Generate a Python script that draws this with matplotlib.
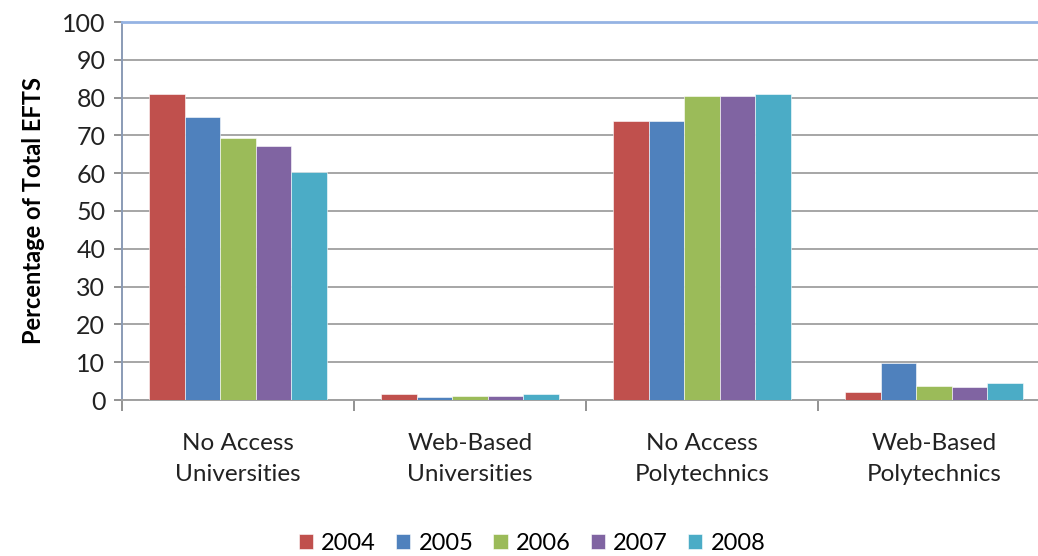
import numpy as np
import matplotlib.pyplot as plt

# share of total EFTS by access type, 2004-2008
categories = ['No Access\nUniversities', 'Web-Based\nUniversities',
              'No Access\nPolytechnics', 'Web-Based\nPolytechnics']
years = ['2004', '2005', '2006', '2007', '2008']
y2004 = [80.9, 1.5, 73.7, 2.1]
y2005 = [74.8, 0.8, 73.7, 9.9]
y2006 = [69.4, 1.1, 80.3, 3.8]
y2007 = [67.3, 1.1, 80.3, 3.4]
y2008 = [60.4, 1.5, 80.9, 4.5]
series = [y2004, y2005, y2006, y2007, y2008]
colors = ['#C0504D', '#4F81BD', '#9BBB59', '#8064A2', '#4BACC6']

plt.rcParams['font.family'] = ['Lato', 'DejaVu Sans']

fig = plt.figure(figsize=(10.38, 5.56), dpi=100)
ax = fig.add_axes([122/1038, 1-400/556, 928/1038, 378/556])

x = np.arange(len(categories))
w = 0.1535
for i, (vals, c, yr) in enumerate(zip(series, colors, years)):
    ax.bar(x + (i - 2) * w, vals, width=w, color=c, label=yr,
           edgecolor='white', linewidth=0.4, zorder=3)

ax.set_xlim(-0.5, 3.5)
ax.set_ylim(0, 100)
ax.set_yticks(range(0, 101, 10))
ax.yaxis.grid(True, color='#A6A6A6', linewidth=1.4, zorder=0)
ax.set_axisbelow(True)

ax.set_xticks(x)
ax.set_xticklabels(categories, fontsize=17.5, color='#222222', linespacing=1.55)
ax.tick_params(axis='x', length=0, pad=24)
# separators between category groups
ax.set_xticks(np.arange(-0.5, 3.6, 1.0), minor=True)
ax.tick_params(axis='x', which='minor', length=8, color='#808080', width=1.2)
ax.tick_params(axis='y', length=6, color='#808080', width=1.2, labelsize=18,
               labelcolor='#222222', pad=6)

ax.spines['right'].set_visible(False)
ax.spines['top'].set_color('#95B3E3')
ax.spines['top'].set_linewidth(2)
ax.spines['left'].set_color('#8A9BB5')
ax.spines['left'].set_linewidth(1.4)
ax.spines['bottom'].set_color('#A0A0A0')
ax.spines['bottom'].set_linewidth(1.4)

ax.set_ylabel('Percentage of Total EFTS', fontsize=17, fontweight='bold', labelpad=12)

fig.legend(loc='center', bbox_to_anchor=(532/1038, 1-543/556), ncol=5,
           frameon=False, fontsize=17, handlelength=0.6, handleheight=0.6,
           handletextpad=0.35, columnspacing=0.85)

fig.savefig('out.png', dpi=100)
